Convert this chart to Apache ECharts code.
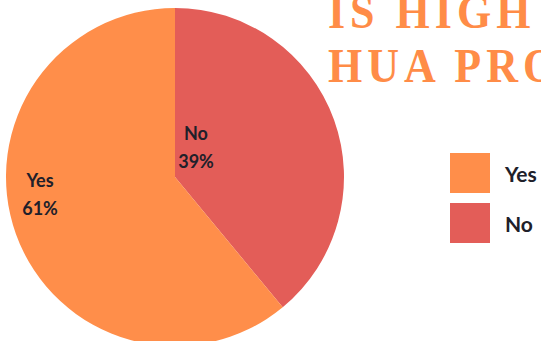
<!DOCTYPE html>
<html>
<head>
<meta charset="utf-8">
<style>
  html, body { margin: 0; padding: 0; background: #fff; }
  #chart { width: 541px; height: 341px; }
  /* spaced-out serif heading */
  #chart text[style*="Liberation Serif"] { letter-spacing: 5px; }
</style>
<script src="https://cdn.jsdelivr.net/npm/echarts@6/dist/echarts.min.js"></script>
</head>
<body>
<div id="chart"></div>
<script>
var categories = ['No', 'Yes'];
var values = [39, 61];
var colors = ['#e35d58', '#ff8e4a'];
var legendOrder = ['Yes', 'No'];
var titleLines = ['IS HIGH', 'HUA PRO'];

var chartDom = document.getElementById('chart');
var myChart = echarts.init(chartDom, null, { renderer: 'svg' });

// where the slice labels sit
var labelSpots = [[196, 147], [40, 194]];

var pieData = categories.map(function (c, i) {
  return { name: c, value: values[i], itemStyle: { color: colors[i] } };
});

var option = {
  animation: false,
  legend: {
    data: legendOrder,
    orient: 'vertical',
    left: 450,
    top: 153,
    padding: 0,
    itemWidth: 40,
    itemHeight: 40,
    itemGap: 10,
    icon: 'rect',
    selectedMode: false,
    textStyle: {
      fontFamily: 'Lato',
      fontWeight: 'bold',
      fontSize: 21,
      color: '#20202a',
      padding: [0, 0, 0, 10]
    }
  },
  graphic: titleLines.map(function (t, i) {
    return {
      type: 'text',
      x: 328,
      y: i === 0 ? 12 : 66,
      scaleY: 1.08,
      silent: true,
      style: {
        text: t,
        fill: '#ff8c47',
        font: 'bold 44px "Liberation Serif"',
        align: 'left',
        verticalAlign: 'middle'
      }
    };
  }),
  series: [
    {
      type: 'pie',
      center: [175, 177],
      radius: 169,
      startAngle: 90,
      clockwise: true,
      silent: true,
      labelLine: { show: false },
      label: {
        show: true,
        position: 'inside',
        formatter: '{b}\n{d}%',
        fontFamily: 'Lato',
        fontWeight: 'bold',
        fontSize: 18,
        lineHeight: 28,
        color: '#20202a'
      },
      labelLayout: function (params) {
        var p = labelSpots[params.dataIndex];
        return { x: p[0], y: p[1], align: 'center', verticalAlign: 'middle' };
      },
      data: pieData
    }
  ]
};

myChart.setOption(option);
</script>
</body>
</html>
